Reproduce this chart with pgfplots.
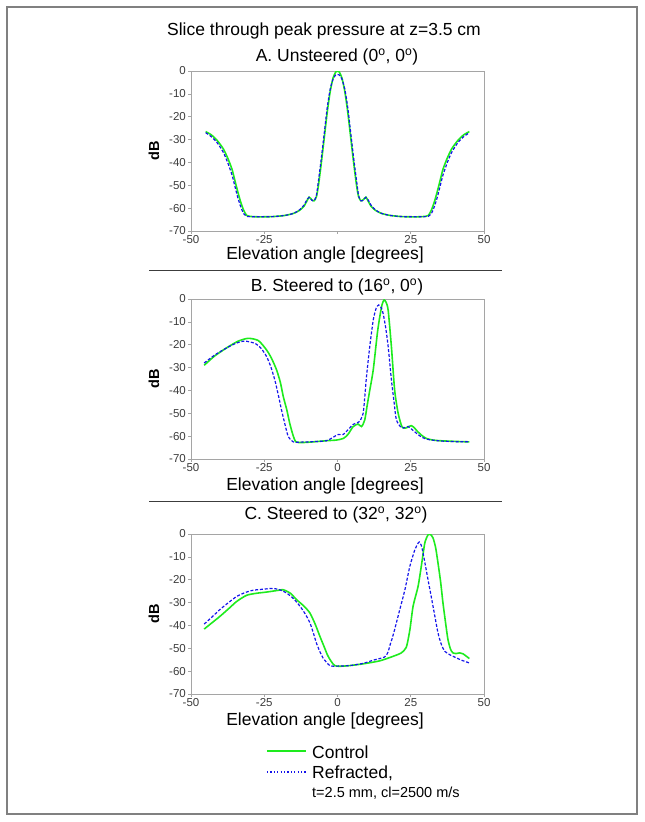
\documentclass[border=0pt]{standalone}
\usepackage{pgfplots}
\pgfplotsset{compat=1.18}
\usepackage{fontspec}
\setmainfont{Liberation Sans}
\definecolor{ctrl}{RGB}{30,235,30}
\definecolor{refr}{RGB}{20,20,235}
\definecolor{axgray}{RGB}{165,165,165}
\definecolor{txgray}{RGB}{60,60,60}
\pgfplotsset{
  panel/.style={
    scale only axis, width=293pt, height=160pt,
    anchor=north west,
    xmin=-50, xmax=50, ymin=-70, ymax=0,
    xtick={-50,-25,0,25,50},
    ytick={-70,-60,-50,-40,-30,-20,-10,0},
    /pgf/number format/assume math mode=true,
    axis line style={axgray, line width=0.8pt},
    tick style={axgray, line width=0.6pt},
    major tick length=3pt,
    tick align=outside, tick pos=left,
    ticklabel style={font=\fontsize{11.5}{13}\selectfont, text=txgray},
    xticklabel style={inner sep=1pt},
    yticklabel style={inner sep=2pt},
    clip=true,
  },
  ctrlstyle/.style={color=ctrl, line width=1.6pt, smooth, tension=0.4},
  refrstyle/.style={color=refr, line width=1.2pt, dash pattern=on 3pt off 1.8pt, smooth, tension=0.4},
}
\begin{document}
\begin{tikzpicture}
\useasboundingbox (0pt,0pt) rectangle (645pt,-822pt);
\draw[gray, line width=1.6pt] (7pt,-7pt) rectangle (637pt,-814pt);
\draw[txgray, line width=0.9pt] (149pt,-270pt) -- (502pt,-270pt);
\draw[txgray, line width=0.9pt] (149pt,-501pt) -- (502pt,-501pt);

\node[font=\fontsize{17.5}{20}\selectfont] at (324pt,-31pt) {Slice through peak pressure at z=3.5 cm};
\node[font=\fontsize{17.5}{20}\selectfont] at (337pt,-57pt) {A. Unsteered (0\textsuperscript{o}, 0\textsuperscript{o})};
\node[font=\fontsize{17.5}{20}\selectfont] at (337pt,-287pt) {B. Steered to (16\textsuperscript{o}, 0\textsuperscript{o})};
\node[font=\fontsize{17.5}{20}\selectfont] at (336pt,-515pt) {C. Steered to (32\textsuperscript{o}, 32\textsuperscript{o})};

\node[font=\fontsize{17.5}{20}\selectfont] at (325pt,-255pt) {Elevation angle [degrees]};
\node[font=\fontsize{17.5}{20}\selectfont] at (325pt,-486pt) {Elevation angle [degrees]};
\node[font=\fontsize{17.5}{20}\selectfont] at (325pt,-721pt) {Elevation angle [degrees]};

\node[rotate=90, font=\bfseries\fontsize{14.5}{16}\selectfont] at (154pt,-151pt) {dB};
\node[rotate=90, font=\bfseries\fontsize{14.5}{16}\selectfont] at (154pt,-379pt) {dB};
\node[rotate=90, font=\bfseries\fontsize{14.5}{16}\selectfont] at (154pt,-614pt) {dB};

% legend
\draw[ctrl, line width=1.8pt] (267pt,-751pt) -- (306pt,-751pt);
\draw[refr, line width=1.2pt, dash pattern=on 1.2pt off 2.2pt] (267pt,-772pt) -- (306pt,-772pt);
\node[anchor=west, inner sep=0pt, font=\fontsize{17.5}{20}\selectfont] at (312pt,-752pt) {Control};
\node[anchor=west, inner sep=0pt, font=\fontsize{17.5}{20}\selectfont] at (312pt,-773pt) {Refracted,};
\node[anchor=west, inner sep=0pt, font=\fontsize{14.5}{16}\selectfont] at (312pt,-793pt) {t=2.5 mm, cl=2500 m/s};

% Panel A
\begin{axis}[panel, at={(191pt,-71pt)}, xticklabels={-50,-25,,25,50}]
\addplot[ctrlstyle] coordinates {
(-45,-26.5) (-43,-28) (-41,-30.5) (-39,-34) (-37.5,-38) (-36,-43) (-35,-48) (-34,-53) (-33,-57.5) (-32,-61) (-31,-63.2) (-30,-63.6) (-27,-63.8) (-22,-63.7) (-18,-63.2) (-15,-62.3) (-13,-61) (-11.5,-59.3) (-10.5,-57) (-9.7,-55.2) (-8.8,-56.3) (-8,-56.8) (-7.2,-55) (-6.5,-50) (-5.5,-40) (-4.5,-29) (-3.5,-18) (-2.5,-9) (-1.5,-3) (-0.6,-0.4) (0,0)
(0.6,-0.4) (1.5,-3) (2.5,-9) (3.5,-18) (4.5,-29) (5.5,-40) (6.5,-50) (7.2,-55) (8,-56.8) (8.8,-56.3) (9.7,-55.2) (10.5,-57) (11.5,-59.3) (13,-61) (15,-62.3) (18,-63.2) (22,-63.7) (27,-63.8) (30,-63.6) (31,-63.2) (32,-61) (33,-57.5) (34,-53) (35,-48) (36,-43) (37.5,-38) (39,-34) (41,-30.5) (43,-28) (45,-26.5)
};
\addplot[refrstyle] coordinates {
(-45,-27) (-43,-28.8) (-41,-31.5) (-39,-35.5) (-37.5,-40) (-36,-45.5) (-35,-50.5) (-34,-55.5) (-33,-59.5) (-32,-62.5) (-31,-63.6) (-27,-63.8) (-22,-63.7) (-18,-63.2) (-15,-62.3) (-13,-60.8) (-11.5,-58.8) (-10.5,-56.5) (-9.7,-55.3) (-8.8,-56.5) (-8,-56.8) (-7.2,-54.5) (-6.5,-48) (-5.5,-38) (-4.5,-27) (-3.5,-16) (-2.5,-8) (-1.5,-3.5) (-0.6,-1.7) (0,-1.5)
(0.6,-1.7) (1.5,-3.5) (2.5,-8) (3.5,-16) (4.5,-27) (5.5,-38) (6.5,-48) (7.2,-54.5) (8,-56.8) (8.8,-56.5) (9.7,-55.3) (10.5,-56.5) (11.5,-58.8) (13,-60.8) (15,-62.3) (18,-63.2) (22,-63.7) (27,-63.8) (31,-63.6) (32,-62.5) (33,-59.5) (34,-55.5) (35,-50.5) (36,-45.5) (37.5,-40) (39,-35.5) (41,-31.5) (43,-28.8) (45,-27)
};
\end{axis}

% Panel B
\begin{axis}[panel, at={(191pt,-299pt)}]
\addplot[ctrlstyle] coordinates {
(-45.5,-29) (-42,-25) (-38,-21.5) (-34,-18.5) (-30.5,-17.2) (-27,-18.2) (-24.2,-22.3) (-22.5,-26) (-20.8,-31) (-19.5,-36.5) (-18.5,-42.7) (-17.3,-48.5) (-16.3,-54.4) (-15.2,-59.5) (-14.2,-62.5) (-12,-62.8) (-8.3,-62.5) (-3.75,-62) (-0.3,-61.7) (2,-61) (3.6,-59.2) (5.3,-55.9) (7,-54.7) (8.2,-55.8) (9.3,-52.9) (10.2,-46) (11,-40) (12.2,-31) (13.6,-15) (14.4,-8) (15.2,-2.5) (15.9,-0.4) (16.6,-1.5) (17.3,-5) (18.4,-20.9) (19.5,-39.8) (20.7,-50) (22,-55.9) (23.2,-56.5) (24.3,-55.8) (25.2,-55.4) (26.2,-56.3) (27.2,-57.8) (28.7,-59.6) (30.3,-61) (32.5,-61.7) (34.9,-62) (40,-62.3) (45,-62.5)
};
\addplot[refrstyle] coordinates {
(-45.5,-28) (-42,-24.6) (-38,-21.5) (-34.5,-19.3) (-31.6,-18.4) (-28,-19.5) (-26,-21.7) (-24.2,-25.2) (-22.8,-29.5) (-21.4,-35.4) (-20.2,-42) (-19.1,-48.6) (-17.9,-55) (-16.8,-60.2) (-15.1,-62.5) (-12,-62.6) (-8,-62.4) (-3.75,-62) (-1.5,-60.5) (0.2,-59.3) (1.9,-59.3) (3.6,-57.2) (5.3,-54.9) (6.7,-54.2) (7.6,-53.5) (8.75,-50) (9.3,-43) (9.9,-33.9) (11,-20.9) (12.2,-9.2) (13.2,-4) (14.1,-2.6) (15,-4) (15.6,-6.5) (16.5,-13) (17.3,-20.9) (18.4,-35.4) (19.3,-45) (20.1,-52.9) (21.8,-56.3) (23,-56.2) (24.1,-55.8) (25.8,-57.5) (28,-59.8) (30.3,-61.3) (35,-62.1) (40,-62.4) (45,-62.5)
};
\end{axis}

% Panel C
\begin{axis}[panel, at={(191pt,-534pt)}]
\addplot[ctrlstyle] coordinates {
(-45.5,-41.6) (-43,-39) (-40.1,-36) (-37,-32.5) (-34.4,-29.5) (-31,-26.8) (-27.5,-25.9) (-24.2,-25.4) (-21,-24.8) (-18.5,-24.4) (-16,-26) (-14,-28.7) (-11.5,-31.5) (-9.4,-34.6) (-7.6,-39.5) (-6,-44.8) (-4.5,-49.5) (-3.2,-53.5) (-0.9,-57.6) (3.1,-57.7) (8.75,-56.8) (14.4,-55.5) (19,-53.5) (21.8,-52) (23.5,-49.5) (24.7,-41.9) (25.8,-31.6) (27.5,-22.9) (28.6,-14.1) (29.8,-3.9) (30.9,-0.4) (31.6,0) (32.6,-1.7) (33.5,-6) (34.3,-12.7) (35.2,-21) (36,-30.2) (36.9,-39) (37.7,-46.2) (38.6,-50.5) (39.4,-52) (40.5,-52.3) (41.7,-52) (42.8,-52.4) (44,-53.5) (45,-54.5)
};
\addplot[refrstyle] coordinates {
(-45.5,-39.4) (-43,-36.5) (-40.1,-33) (-37,-29.8) (-34.4,-27.3) (-31.5,-25.6) (-28.75,-24.6) (-25,-24.1) (-21.9,-23.8) (-19.5,-24.5) (-17.4,-25.8) (-15,-28.3) (-12.8,-31.6) (-11,-35) (-9.4,-38.9) (-8.2,-43.5) (-7.2,-47.7) (-6,-51.5) (-4.9,-54.3) (-2.6,-57.6) (-0.3,-57.8) (4,-57.6) (8.75,-56.6) (12.2,-55.2) (16.1,-53.8) (17.3,-51.5) (17.8,-49.1) (18.7,-45.5) (19.5,-41.8) (21.25,-33.1) (23,-24.4) (24.7,-14.1) (26.4,-6.9) (27.5,-4) (27.9,-3.5) (28.6,-5) (29.2,-8.3) (30.9,-20) (32.6,-31.6) (34.3,-43.3) (35.5,-48.5) (36.6,-51.3) (38.3,-52.8) (40.6,-54.2) (42.5,-55.3) (45,-56.4)
};
\end{axis}
\end{tikzpicture}
\end{document}
